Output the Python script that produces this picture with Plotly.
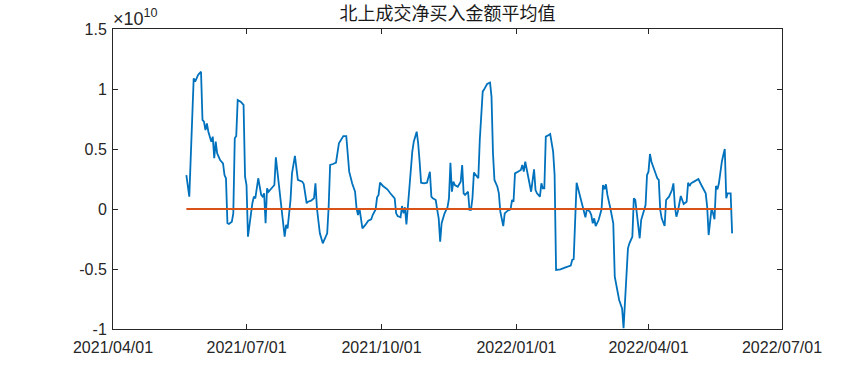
import plotly.graph_objects as go

SCALE = 1e10

dates = [
    "2021-05-21", "2021-05-23", "2021-05-26", "2021-05-27", "2021-05-29", "2021-05-31",
    "2021-06-01", "2021-06-02", "2021-06-03", "2021-06-04", "2021-06-05", "2021-06-06", "2021-06-07", "2021-06-08", "2021-06-09", "2021-06-10", "2021-06-11", "2021-06-12", "2021-06-13", "2021-06-15", "2021-06-16", "2021-06-17", "2021-06-18", "2021-06-19", "2021-06-21", "2021-06-22", "2021-06-23", "2021-06-24", "2021-06-25", "2021-06-27", "2021-06-29", "2021-06-30",
    "2021-07-01", "2021-07-02", "2021-07-03", "2021-07-05", "2021-07-06", "2021-07-07", "2021-07-09", "2021-07-10", "2021-07-11", "2021-07-12", "2021-07-13", "2021-07-14", "2021-07-15", "2021-07-16", "2021-07-18", "2021-07-20", "2021-07-21", "2021-07-22", "2021-07-23", "2021-07-25", "2021-07-27", "2021-07-28", "2021-07-29", "2021-07-31",
    "2021-08-01", "2021-08-03", "2021-08-04", "2021-08-05", "2021-08-08", "2021-08-09", "2021-08-11", "2021-08-12", "2021-08-14", "2021-08-16", "2021-08-17", "2021-08-18", "2021-08-20", "2021-08-21", "2021-08-22", "2021-08-24", "2021-08-25", "2021-08-26", "2021-08-27", "2021-08-29", "2021-08-31",
    "2021-09-02", "2021-09-04", "2021-09-05", "2021-09-07", "2021-09-08", "2021-09-09", "2021-09-11", "2021-09-13", "2021-09-14", "2021-09-15", "2021-09-16", "2021-09-17", "2021-09-18", "2021-09-20", "2021-09-22", "2021-09-24", "2021-09-25", "2021-09-27", "2021-09-28", "2021-09-29", "2021-09-30",
    "2021-10-02", "2021-10-05", "2021-10-07", "2021-10-09", "2021-10-10", "2021-10-11", "2021-10-12", "2021-10-14", "2021-10-15", "2021-10-16", "2021-10-17", "2021-10-18", "2021-10-19", "2021-10-20", "2021-10-22", "2021-10-23", "2021-10-25", "2021-10-26", "2021-10-27", "2021-10-28", "2021-10-30",
    "2021-11-01", "2021-11-03", "2021-11-04", "2021-11-05", "2021-11-07", "2021-11-08", "2021-11-09", "2021-11-10", "2021-11-11", "2021-11-13", "2021-11-15", "2021-11-16", "2021-11-17", "2021-11-18", "2021-11-19", "2021-11-20", "2021-11-22", "2021-11-24", "2021-11-25", "2021-11-26", "2021-11-27", "2021-11-29", "2021-11-30",
    "2021-12-01", "2021-12-02", "2021-12-03", "2021-12-06", "2021-12-07", "2021-12-09", "2021-12-10", "2021-12-12", "2021-12-14", "2021-12-15", "2021-12-16", "2021-12-17", "2021-12-19", "2021-12-20", "2021-12-21", "2021-12-22", "2021-12-23", "2021-12-24", "2021-12-26", "2021-12-28", "2021-12-29", "2021-12-30", "2021-12-31",
    "2022-01-02", "2022-01-04", "2022-01-05", "2022-01-06", "2022-01-07", "2022-01-08", "2022-01-10", "2022-01-11", "2022-01-13", "2022-01-14", "2022-01-15", "2022-01-17", "2022-01-18", "2022-01-19", "2022-01-20", "2022-01-21", "2022-01-23", "2022-01-24", "2022-01-26", "2022-01-27", "2022-01-28", "2022-01-31",
    "2022-02-03", "2022-02-07", "2022-02-08", "2022-02-09", "2022-02-11", "2022-02-13", "2022-02-15", "2022-02-17", "2022-02-18", "2022-02-20", "2022-02-21", "2022-02-22", "2022-02-23", "2022-02-24", "2022-02-26", "2022-02-27", "2022-02-28",
    "2022-03-01", "2022-03-02", "2022-03-03", "2022-03-04", "2022-03-06", "2022-03-08", "2022-03-09", "2022-03-11", "2022-03-12", "2022-03-14", "2022-03-15", "2022-03-18", "2022-03-19", "2022-03-21", "2022-03-22", "2022-03-23", "2022-03-26", "2022-03-27", "2022-03-29", "2022-03-30", "2022-03-31",
    "2022-04-01", "2022-04-02", "2022-04-03", "2022-04-05", "2022-04-07", "2022-04-08", "2022-04-09", "2022-04-10", "2022-04-12", "2022-04-13", "2022-04-15", "2022-04-16", "2022-04-17", "2022-04-18", "2022-04-19", "2022-04-20", "2022-04-21", "2022-04-23", "2022-04-24", "2022-04-25", "2022-04-27", "2022-04-28", "2022-04-29", "2022-04-30",
    "2022-05-02", "2022-05-04", "2022-05-05", "2022-05-07", "2022-05-10", "2022-05-11", "2022-05-12", "2022-05-13", "2022-05-14", "2022-05-15", "2022-05-16", "2022-05-17", "2022-05-18", "2022-05-19", "2022-05-20", "2022-05-21", "2022-05-22", "2022-05-23", "2022-05-24", "2022-05-25", "2022-05-27", "2022-05-28",
]

# net buy average, in units of 1e10
values_e10 = [
    0.283, 0.103, 1.089, 1.061, 1.117, 1.144,
    0.742, 0.728, 0.658, 0.714, 0.644, 0.589, 0.561, 0.603, 0.423, 0.561, 0.464, 0.436, 0.408, 0.381, 0.283, 0.256, -0.119, -0.125, -0.106, -0.036, 0.589, 0.608, 0.908, 0.894, 0.867, 0.269,
    0.2, -0.231, -0.119, 0.048, 0.103, 0.089, 0.256, 0.186, 0.117, 0.103, 0.131, -0.119, 0.173, 0.144, 0.173, 0.2, 0.431, 0.311, 0.242, -0.008, -0.231, -0.133, -0.161, 0.075,
    0.297, 0.442, 0.339, 0.242, 0.228, 0.208, 0.048, 0.061, 0.069, 0.089, 0.214, 0.006, -0.203, -0.244, -0.286, -0.231, -0.203, 0.019, 0.367, 0.375, 0.386,
    0.548, 0.589, 0.608, 0.608, 0.414, 0.311, 0.214, 0.144, 0.006, -0.05, 0.006, -0.078, -0.161, -0.133, -0.097, -0.086, -0.05, -0.003, 0.097, 0.117, 0.219,
    0.192, 0.164, 0.131, 0.097, 0.089, -0.036, -0.058, -0.069, 0.025, -0.036, 0.014, -0.128, -0.003, 0.173, 0.478, 0.561, 0.644, 0.548, 0.394, 0.219, 0.214,
    0.219, 0.311, 0.103, 0.089, 0.075, -0.008, -0.078, -0.272, -0.119, -0.036, 0.014, 0.089, 0.386, 0.144, 0.228, 0.2, 0.186, 0.228, 0.367, 0.131, 0.117, 0.144, -0.008,
    -0.008, 0.089, 0.303, 0.256, 0.575, 0.978, 0.997, 1.042, 1.053, 0.936, 0.464, 0.242, 0.186, 0.131, -0.022, -0.078, -0.142, -0.036, -0.014, -0.003, 0.075, 0.061, 0.297,
    0.311, 0.325, 0.367, 0.311, 0.394, 0.325, 0.2, 0.144, 0.331, 0.158, 0.131, 0.103, 0.214, 0.173, 0.173, 0.603, 0.617, 0.625, 0.478, 0.283, -0.508, -0.503,
    -0.489, -0.472, -0.425, -0.419, 0.219, 0.117, 0.019, -0.069, -0.003, -0.022, -0.05, -0.119, -0.078, -0.142, -0.092, -0.05, -0.003,
    0.2, 0.164, 0.206, 0.117, 0.006, -0.119, -0.564, -0.717, -0.758, -0.828, -0.994, -0.328, -0.286, -0.231, 0.089, 0.075, -0.244, -0.092, 0.006, 0.033, 0.283,
    0.311, 0.458, 0.394, 0.325, 0.256, 0.242, -0.008, -0.078, -0.142, 0.075, 0.103, 0.131, 0.158, 0.214, 0.019, -0.064, -0.022, 0.108, 0.075, 0.042, 0.061, 0.219, 0.192, 0.214,
    0.228, 0.242, 0.25, 0.2, 0.131, 0.019, -0.217, -0.106, 0.006, -0.036, -0.086, 0.192, 0.164, 0.214, 0.311, 0.394, 0.45, 0.5, 0.089, 0.131, 0.131, -0.203,
]
assert len(dates) == len(values_e10)

reference_level = 0.0

x_tick_dates = ["2021-04-01", "2021-07-01", "2021-10-01", "2022-01-01", "2022-04-01", "2022-07-01"]
x_tick_labels = ["2021/04/01", "2021/07/01", "2021/10/01", "2022/01/01", "2022/04/01", "2022/07/01"]
y_tick_values_e10 = [-1, -0.5, 0, 0.5, 1, 1.5]
y_tick_labels = ["-1", "-0.5", "0", "0.5", "1", "1.5"]

title_text = "北上成交净买入金额平均值"

values = [v * SCALE for v in values_e10]

AX = "#262626"
FONT = "Liberation Sans, Arial, sans-serif"

W, H = 865, 371

fig = go.Figure()
fig.add_trace(go.Scatter(
    x=dates, y=values, mode="lines",
    line=dict(color="#0072BD", width=1.8),
    showlegend=False, hoverinfo="x+y",
))
fig.add_trace(go.Scatter(
    x=[dates[0], dates[-1]], y=[reference_level * SCALE] * 2, mode="lines",
    line=dict(color="#D95319", width=2),
    showlegend=False,
))

fig.update_layout(
    width=W, height=H,
    margin=dict(l=113, r=83, t=29, b=42),
    paper_bgcolor="white", plot_bgcolor="white",
    font=dict(family=FONT, size=16, color=AX),
    title=dict(
        text=title_text, x=(113 + 782) / 2 / W, xanchor="center",
        y=1 - 14 / H, yanchor="middle",
        font=dict(family="Noto Sans CJK SC", size=18, color="#1a1a1a"),
    ),
)
fig.update_xaxes(
    type="date", range=["2021-04-01", "2022-07-01"],
    tickvals=x_tick_dates, ticktext=x_tick_labels,
    showgrid=False, zeroline=False, automargin=False,
    showline=True, linecolor=AX, linewidth=1, mirror="ticks",
    ticks="inside", ticklen=5, tickcolor=AX, tickwidth=1,
    ticklabelstandoff=4,
    tickfont=dict(family=FONT, size=16, color=AX),
)
fig.update_yaxes(
    range=[-1 * SCALE, 1.5 * SCALE],
    tickvals=[t * SCALE for t in y_tick_values_e10], ticktext=y_tick_labels,
    showgrid=False, zeroline=False, automargin=False,
    showline=True, linecolor=AX, linewidth=1, mirror="ticks",
    ticks="inside", ticklen=5, tickcolor=AX, tickwidth=1,
    ticklabelstandoff=2,
    tickfont=dict(family=FONT, size=16, color=AX),
)
fig.add_annotation(
    xref="paper", yref="paper", x=0, y=1, xanchor="left", yanchor="bottom",
    text="×10<sup>10</sup>", showarrow=False, xshift=-2, yshift=-2,
    font=dict(family=FONT, size=18, color=AX),
)

fig.write_html(
    "out.html",
    config={"displayModeBar": False},
    post_script="document.body.style.margin='0';document.body.style.overflow='hidden';",
)
